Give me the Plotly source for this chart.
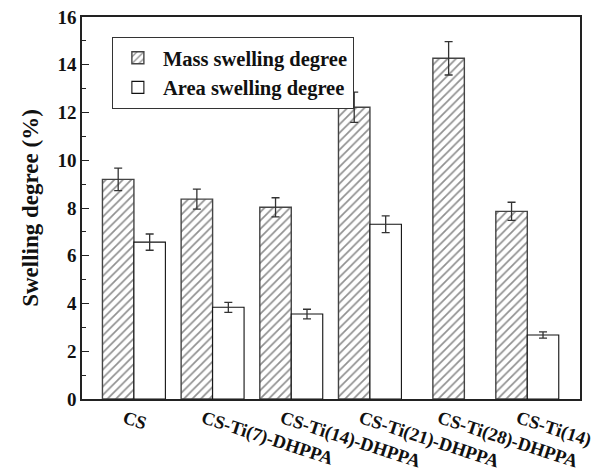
import plotly.graph_objects as go

categories = ["CS", "CS-Ti(7)-DHPPA", "CS-Ti(14)-DHPPA", "CS-Ti(21)-DHPPA",
              "CS-Ti(28)-DHPPA", "CS-Ti(14)"]
mass_values = [9.2, 8.37, 8.03, 12.22, 14.27, 7.86]
mass_errors = [0.47, 0.42, 0.40, 0.63, 0.70, 0.38]
area_values = [6.57, 3.84, 3.56, 7.32, None, 2.68]
area_errors = [0.34, 0.21, 0.20, 0.35, None, 0.13]
y_ticks = [0, 2, 4, 6, 8, 10, 12, 14, 16]

FONT = "Liberation Serif"
bar_w = 0.4
label_shift = 0.12
idx = list(range(len(categories)))
mass_x = [i - bar_w / 2 if area_values[i] is not None else i for i in idx]
area_x = [i + bar_w / 2 for i in idx if area_values[i] is not None]
area_y = [v for v in area_values if v is not None]
area_e = [e for e in area_errors if e is not None]

fig = go.Figure()
fig.add_trace(go.Bar(
    x=mass_x, y=mass_values, width=bar_w, name="Mass swelling degree",
    marker=dict(color="white", line=dict(color="#444", width=1.4),
                pattern=dict(shape="/", size=6, solidity=0.28,
                             fgcolor="#222", bgcolor="white")),
    error_y=dict(type="data", array=mass_errors, color="#333",
                 thickness=1.3, width=4),
))
fig.add_trace(go.Bar(
    x=area_x, y=area_y, width=bar_w, name="Area swelling degree",
    marker=dict(color="white", line=dict(color="#111", width=1.1)),
    error_y=dict(type="data", array=area_e, color="#333",
                 thickness=1.3, width=4),
))

fig.update_layout(
    width=599, height=475,
    margin=dict(l=82, r=19, t=17, b=76),
    plot_bgcolor="white", paper_bgcolor="white",
    barmode="overlay",
    showlegend=True,
    legend=dict(x=0.06, y=0.948, xanchor="left", yanchor="top",
                bordercolor="#333", borderwidth=1, bgcolor="white",
                font=dict(family=FONT, size=20.5, color="#111", weight="bold"),
                tracegroupgap=0, itemwidth=40),
    font=dict(family=FONT, color="#111"),
)
fig.update_xaxes(
    range=[-0.66, 5.67], tickmode="array",
    tickvals=[i - label_shift for i in idx], ticktext=categories,
    tickangle=18, ticks="", showgrid=False, zeroline=False,
    showline=True, linecolor="#222", linewidth=1.5, mirror=True,
    tickfont=dict(family=FONT, size=18.5, color="#111", weight="bold"),
    ticklabeloverflow="allow",
    automargin=False,
)
fig.update_yaxes(
    range=[0, 16], tickmode="array", tickvals=y_ticks,
    ticks="inside", ticklen=7, tickwidth=1.2, tickcolor="#222",
    minor=dict(dtick=1, ticks="inside", ticklen=4, tickwidth=1, tickcolor="#222"),
    showgrid=False, zeroline=False,
    showline=True, linecolor="#222", linewidth=1.5, mirror=True,
    tickfont=dict(family=FONT, size=19, color="#111", weight="bold"),
    title=dict(text="Swelling degree (%)", standoff=12,
               font=dict(family=FONT, size=23, color="#111", weight="bold")),
    automargin=False,
)

fig.write_html("out.html")
